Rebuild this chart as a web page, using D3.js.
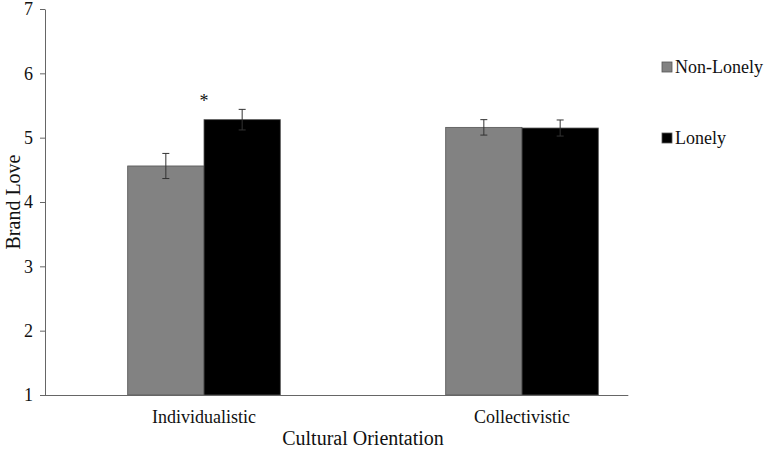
<!DOCTYPE html>
<html>
<head>
<meta charset="utf-8">
<script src="https://cdn.jsdelivr.net/npm/d3@7"></script>
<style>
  body { margin: 0; background: #fff; }
  svg text { font-family: "Liberation Serif", "DejaVu Serif", serif !important; fill: #111; }
</style>
</head>
<body>
<div id="chart-area"></div>
<script>
// data
const categories = ["Individualistic", "Collectivistic"]
const groups = ["Non-Lonely", "Lonely"]
const nonLonely = [4.56, 5.16]
const lonely = [5.28, 5.15]
const nonLonelyErr = [0.195, 0.12]
const lonelyErr = [0.16, 0.125]
const yTicks = [1, 2, 3, 4, 5, 6, 7]
const colors = ["#828282", "#000000"]

const W = 767, H = 454
const MARGIN = { LEFT: 45, RIGHT: 86, TOP: 9, BOTTOM: 59 }
const WIDTH = W - MARGIN.LEFT - MARGIN.RIGHT
const HEIGHT = H - MARGIN.TOP - MARGIN.BOTTOM

const svg = d3.select("#chart-area").append("svg")
    .attr("width", W)
    .attr("height", H)

const g = svg.append("g")
    .attr("transform", `translate(${MARGIN.LEFT}, ${MARGIN.TOP})`)

const y = d3.scaleLinear().domain([1, 7]).range([HEIGHT, 0])
const x = d3.scaleBand().domain(categories).range([0, WIDTH]).paddingInner(0.52).paddingOuter(0.26)
const xSub = d3.scaleBand().domain(groups).range([0, x.bandwidth()])

const rows = []
categories.forEach((c, i) => {
  rows.push({ cat: c, grp: groups[0], v: nonLonely[i], e: nonLonelyErr[i] })
  rows.push({ cat: c, grp: groups[1], v: lonely[i], e: lonelyErr[i] })
})

// bars
g.selectAll("rect.bar").data(rows).enter().append("rect")
    .attr("class", "bar")
    .attr("x", d => x(d.cat) + xSub(d.grp))
    .attr("y", d => y(d.v))
    .attr("width", xSub.bandwidth())
    .attr("height", d => y(1) - y(d.v))
    .attr("fill", d => colors[groups.indexOf(d.grp)])
    .attr("stroke", "#555")
    .attr("stroke-width", 0.8)

// error bars
const eb = g.selectAll("g.err").data(rows).enter().append("g")
    .attr("class", "err")
    .attr("transform", d => `translate(${x(d.cat) + xSub(d.grp) + xSub.bandwidth() / 2}, 0)`)
eb.append("line")
    .attr("y1", d => y(d.v + d.e)).attr("y2", d => y(d.v - d.e))
    .attr("stroke", "#333").attr("stroke-width", 1)
eb.append("line")
    .attr("x1", -3.5).attr("x2", 3.5)
    .attr("y1", d => y(d.v + d.e)).attr("y2", d => y(d.v + d.e))
    .attr("stroke", "#333").attr("stroke-width", 1)
eb.append("line")
    .attr("x1", -3.5).attr("x2", 3.5)
    .attr("y1", d => y(d.v - d.e)).attr("y2", d => y(d.v - d.e))
    .attr("stroke", "#333").attr("stroke-width", 1)

// significance marker
g.append("text")
    .attr("x", x(categories[0]) + x.bandwidth() / 2)
    .attr("y", y(lonely[0] + lonelyErr[0]) - 2)
    .attr("text-anchor", "middle")
    .attr("font-size", "18px")
    .text("*")

// y axis
const yAxis = g.append("g")
    .call(d3.axisLeft(y).tickValues(yTicks).tickSize(5).tickSizeOuter(0).tickFormat(d3.format("d")))
yAxis.select(".domain").attr("stroke", "#666")
yAxis.selectAll(".tick line").attr("stroke", "#666")
yAxis.selectAll(".tick text")
    .attr("x", -12)
    .attr("text-anchor", "end")
    .attr("font-size", "18px")

// x axis
const xAxis = g.append("g")
    .attr("transform", `translate(0, ${HEIGHT})`)
    .call(d3.axisBottom(x).tickSize(0).tickPadding(15))
xAxis.select(".domain").attr("stroke", "#666").attr("d", `M0,0.5H${x(categories[1]) + x.bandwidth() + 30}`)
xAxis.selectAll(".tick text")
    .attr("font-size", "18px")

// axis titles
g.append("text")
    .attr("x", (x(categories[0]) + x(categories[1]) + x.bandwidth()) / 2)
    .attr("y", HEIGHT + 50)
    .attr("text-anchor", "middle")
    .attr("font-size", "20px")
    .text("Cultural Orientation")

g.append("text")
    .attr("transform", "rotate(-90)")
    .attr("x", -y(4))
    .attr("y", -25)
    .attr("text-anchor", "middle")
    .attr("font-size", "20px")
    .text("Brand Love")

// legend
const legend = svg.append("g").attr("transform", "translate(662, 0)")
groups.forEach((gname, i) => {
  const ly = 73 + i * 71
  legend.append("rect")
      .attr("x", 0).attr("y", ly - 11)
      .attr("width", 10).attr("height", 10)
      .attr("fill", colors[i])
      .attr("stroke", "#555").attr("stroke-width", 0.8)
  legend.append("text")
      .attr("x", 13).attr("y", ly)
      .attr("font-size", "18px")
      .text(gname)
})
</script>
</body>
</html>
